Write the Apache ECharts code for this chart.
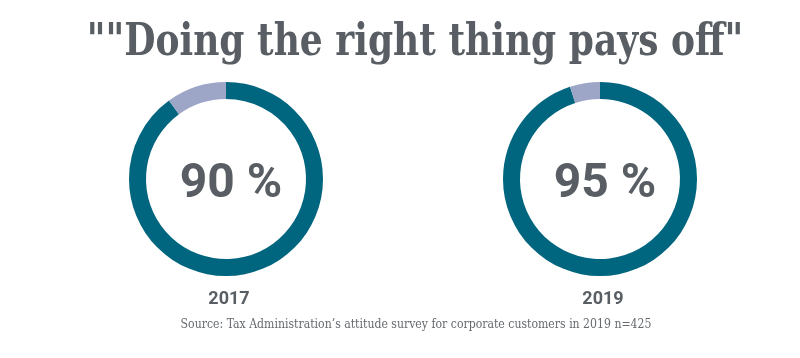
<!DOCTYPE html>
<html><head><meta charset="utf-8">
<script src="https://cdn.jsdelivr.net/npm/echarts@6/dist/echarts.min.js"></script>
<style>html,body{margin:0;padding:0;background:#fff}#c{width:800px;height:358px}</style>
</head><body><div id="c"></div>
<script>
var years = ['2017', '2019'];
var agreeShare = [90, 95];
var chartTitle = '""Doing the right thing pays off"';
var sourceNote = 'Source: Tax Administration\u2019s attitude survey for corporate customers in 2019 n=425';

var centersX = [226, 600];
var series = [];
var titles = [];
var graphics = [{
  type: 'text', x: 415, y: 43, scaleX: 0.8, silent: true,
  style: {text: chartTitle, font: 'bold 45px "DejaVu Serif"', fill: '#585e63', align: 'center', verticalAlign: 'middle'}
}, {
  type: 'text', x: 416, y: 325, scaleX: 0.91, silent: true,
  style: {text: sourceNote, font: '12px "DejaVu Serif"', fill: '#666a6e', align: 'center', verticalAlign: 'middle'}
}];
years.forEach(function (y, i) {
  series.push({
    type: 'pie', center: [centersX[i] + 'px', '179px'], radius: [80, 97],
    startAngle: 90, clockwise: true, silent: true,
    label: {show: false}, labelLine: {show: false},
    itemStyle: {borderWidth: 0},
    data: [
      {value: agreeShare[i], itemStyle: {color: '#00657e'}},
      {value: 100 - agreeShare[i], itemStyle: {color: '#9ea6c8'}}
    ]
  });
  titles.push({
    text: agreeShare[i] + ' %', left: centersX[i], top: 156, textAlign: 'center',
    textStyle: {fontFamily: 'Roboto', fontWeight: 'bold', fontSize: 48, color: '#585e63'}
  });
  titles.push({
    text: y, left: centersX[i] - 2, top: 285, textAlign: 'center',
    textStyle: {fontFamily: 'Roboto', fontWeight: 'bold', fontSize: 18, color: '#585e63'}
  });
});
var chart = echarts.init(document.getElementById('c'), null, {renderer: 'canvas'});
chart.setOption({animation: false, title: titles, series: series, graphic: graphics});
</script></body></html>
